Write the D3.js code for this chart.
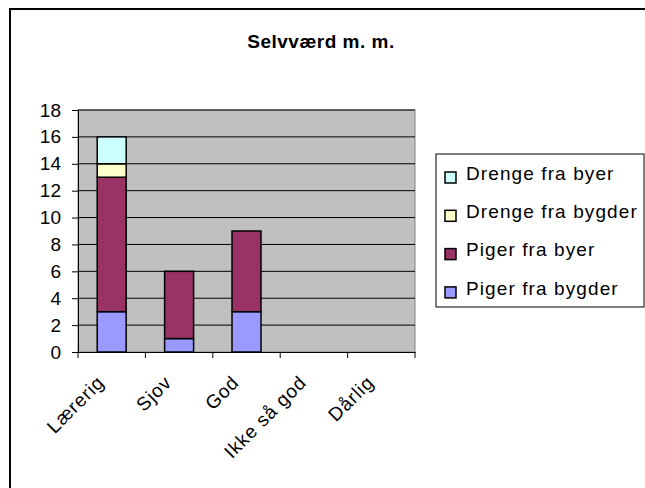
<!DOCTYPE html>
<html>
<head>
<meta charset="utf-8">
<script src="https://cdn.jsdelivr.net/npm/d3@7"></script>
<style>
  body { margin: 0; background: #fff; }
  text { font-family: "Liberation Sans", Arial, sans-serif; }
</style>
</head>
<body>
<div id="chart"></div>
<script>
// categories and series
const categories = ["Lærerig", "Sjov", "God", "Ikke så god", "Dårlig"];
const pigerBygder = [3, 1, 3, 0, 0];
const pigerByer = [10, 5, 6, 0, 0];
const drengeBygder = [1, 0, 0, 0, 0];
const drengeByer = [2, 0, 0, 0, 0];
const seriesNames = ["Piger fra bygder", "Piger fra byer", "Drenge fra bygder", "Drenge fra byer"];
const yTicks = [0, 2, 4, 6, 8, 10, 12, 14, 16, 18];

const width = 645, height = 488;
const plot = { left: 78, right: 415, top: 110, bottom: 352 };

const colors = ["#9999FF", "#993366", "#FFFFCC", "#CCFFFF"];

let svg = d3.select("#chart")
    .append("svg")
    .attr("width", width)
    .attr("height", height);

// outer chart frame (runs off the right / bottom edge)
svg.append("rect")
    .attr("x", 10).attr("y", 9)
    .attr("width", 700).attr("height", 600)
    .attr("fill", "#fff")
    .attr("stroke", "#000")
    .attr("stroke-width", 2);

svg.append("text")
    .attr("x", 321).attr("y", 48)
    .attr("text-anchor", "middle")
    .style("font-size", "19px")
    .style("font-weight", "bold")
    .style("letter-spacing", "0.5px")
    .text("Selvværd m. m.");

let x = d3.scaleBand()
    .domain(categories)
    .range([plot.left, plot.right]);

let y = d3.scaleLinear()
    .domain([0, 18])
    .range([plot.bottom, plot.top]);

// plot area
svg.append("rect")
    .attr("x", plot.left).attr("y", plot.top)
    .attr("width", plot.right - plot.left)
    .attr("height", plot.bottom - plot.top)
    .attr("fill", "#C0C0C0")
    .attr("stroke", "#808080")
    .attr("stroke-width", 1);

// gridlines
svg.append("g")
    .selectAll("line")
    .data(yTicks.filter(d => d > 0))
    .enter()
    .append("line")
    .attr("x1", plot.left).attr("x2", plot.right)
    .attr("y1", d => y(d)).attr("y2", d => y(d))
    .attr("stroke", "#000")
    .attr("stroke-width", 1);

// stacked bars
let rows = categories.map((c, i) => ({
    cat: c,
    "Piger fra bygder": pigerBygder[i],
    "Piger fra byer": pigerByer[i],
    "Drenge fra bygder": drengeBygder[i],
    "Drenge fra byer": drengeByer[i]
}));
let stacked = d3.stack().keys(seriesNames)(rows);

const barW = x.bandwidth() * 0.43;

svg.append("g")
    .selectAll("g")
    .data(stacked)
    .enter()
    .append("g")
    .attr("fill", (d, i) => colors[i])
    .selectAll("rect")
    .data(d => d.filter(p => p[1] > p[0]))
    .enter()
    .append("rect")
    .attr("x", d => x(d.data.cat) + (x.bandwidth() - barW) / 2)
    .attr("width", barW)
    .attr("y", d => y(d[1]))
    .attr("height", d => y(d[0]) - y(d[1]))
    .attr("stroke", "#000")
    .attr("stroke-width", 1.5);

// y axis
let yAxis = svg.append("g")
    .attr("transform", "translate(" + plot.left + ",0)")
    .call(d3.axisLeft(y).tickValues(yTicks).tickSize(6).tickPadding(11).tickSizeOuter(0));
yAxis.select(".domain").attr("stroke", "#000");
yAxis.selectAll("text")
    .style("font-size", "19px")
    .attr("fill", "#000")
    .style("font-family", "'Liberation Sans', Arial, sans-serif");

// x axis
let xAxis = svg.append("g")
    .attr("transform", "translate(0," + plot.bottom + ")")
    .call(d3.axisBottom(x).tickSize(0).tickSizeOuter(0));
xAxis.select(".domain").attr("stroke", "#000");
xAxis.selectAll(".tick line").remove();
xAxis.selectAll(".tick text").remove();

// tick marks between categories
let bounds = categories.map(c => x(c)).concat([plot.right]);
xAxis.selectAll(".sep")
    .data(bounds)
    .enter()
    .append("line")
    .attr("x1", d => d).attr("x2", d => d)
    .attr("y1", 0).attr("y2", 6)
    .attr("stroke", "#000");

// rotated category labels
svg.append("g")
    .selectAll("text")
    .data(categories)
    .enter()
    .append("text")
    .attr("transform", d => "translate(" + (x(d) + x.bandwidth() / 2 - 11) + "," + (plot.bottom + 27) + ") rotate(-45)")
    .attr("text-anchor", "end")
    .attr("dy", "0.35em")
    .style("font-size", "19px")
    .style("letter-spacing", "0.9px")
    .text(d => d);

// legend
let legend = svg.append("g");
legend.append("rect")
    .attr("x", 436).attr("y", 154)
    .attr("width", 208).attr("height", 153)
    .attr("fill", "#fff")
    .attr("stroke", "#000")
    .attr("stroke-width", 1);

let legendOrder = seriesNames.slice().reverse();
let items = legend.selectAll(".item")
    .data(legendOrder)
    .enter()
    .append("g")
    .attr("transform", (d, i) => "translate(445," + (173 + i * 38.3) + ")");
items.append("rect")
    .attr("x", 0).attr("y", -1)
    .attr("width", 11).attr("height", 11)
    .attr("fill", d => colors[seriesNames.indexOf(d)])
    .attr("stroke", "#000")
    .attr("stroke-width", 1.5);
items.append("text")
    .attr("x", 21).attr("y", 0)
    .attr("dy", "0.35em")
    .style("font-size", "19px")
    .style("letter-spacing", "1.1px")
    .text(d => d);
</script>
</body>
</html>
